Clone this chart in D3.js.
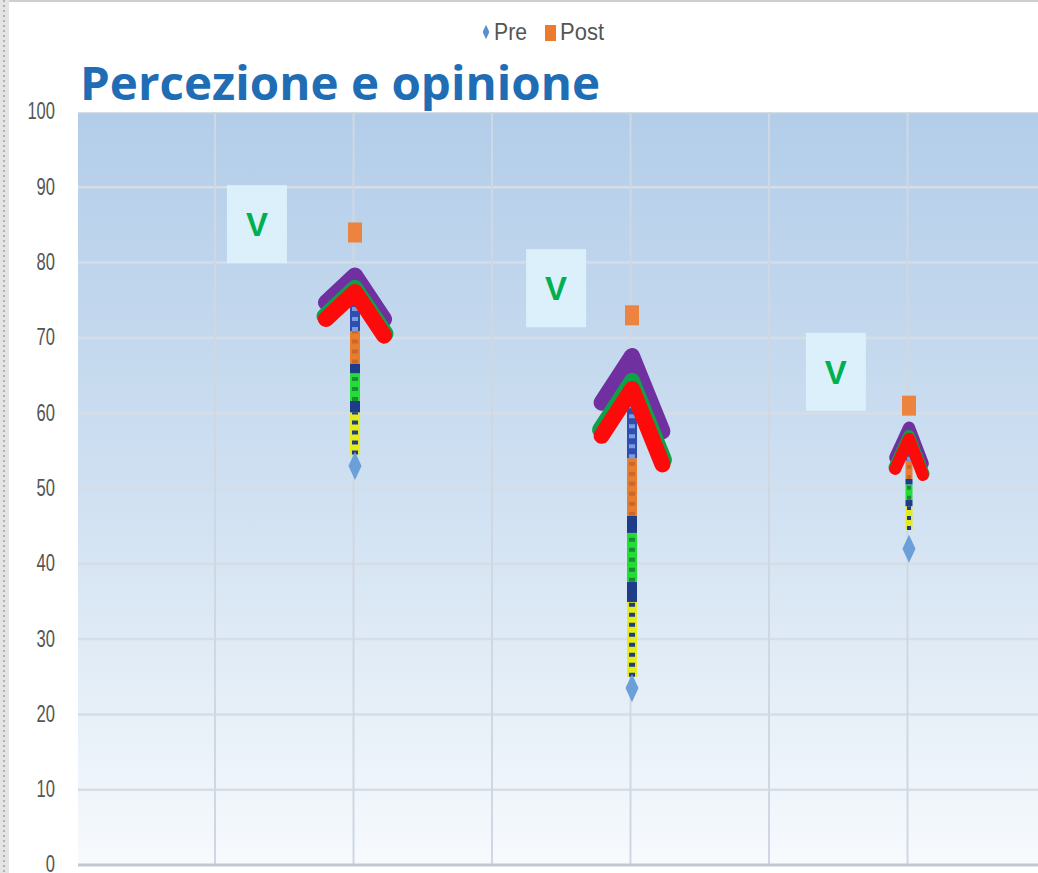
<!DOCTYPE html>
<html><head><meta charset="utf-8">
<script src="https://cdn.jsdelivr.net/npm/d3@7"></script>
<style>html,body{margin:0;padding:0;background:#fff;overflow:hidden}</style>
</head><body>
<svg id="c" width="1038" height="873"></svg>
<script>
// ---- data ----
const categories = [1, 2, 3];
const preValues  = [53, 23.5, 42];
const postValues = [84, 73, 61];
const yTicks = [0, 10, 20, 30, 40, 50, 60, 70, 80, 90, 100];
const xGrid = [0.5, 1, 1.5, 2, 2.5, 3, 3.5];
// arrow annotations (data units)
const arrowBase = [54.5, 25, 44.5];
const arrowTip  = [78.3, 67.6, 58.1];
const headHalf  = [0.105, 0.11, 0.05];    // x units
const dropLeft  = [3.6, 6.2, 4.0];        // y units
const dropRight = [5.8, 10.0, 4.8];
const layerOff  = [2.2, 4.4, 1.5];
// "V" labels (data units)
const vLabelX = [0.646, 1.726, 2.736];
const vLabelY = [85.1, 76.6, 65.5];
const vText = ["V", "V", "V"];
const legendItems = ["Pre", "Post"];
const title = "Percezione e opinione";

const svg = d3.select("#c");
const x = d3.scaleLinear().domain([0, 3.5]).range([78, 78 + 3.5 * 277]);
const y = d3.scaleLinear().domain([0, 100]).range([865, 112]);
const narrow = "'Liberation Sans','Arial',sans-serif";

// slide frame decoration
svg.append("rect").attr("x",0).attr("y",0).attr("width",1038).attr("height",2).attr("fill","#cfcfcf");
svg.append("rect").attr("x",0).attr("y",0).attr("width",9).attr("height",873).attr("fill","#e4e4e4");
svg.append("line").attr("x1",4).attr("x2",4).attr("y1",0).attr("y2",873)
  .attr("stroke","#b0b0b0").attr("stroke-width",2).attr("stroke-dasharray","2,3");

const defs = svg.append("defs");
const g = defs.append("linearGradient").attr("id","bg").attr("x1",0).attr("x2",0).attr("y1",0).attr("y2",1);
g.append("stop").attr("offset","0").attr("stop-color","#b3cde9");
g.append("stop").attr("offset","0.5").attr("stop-color","#cfe0f1");
g.append("stop").attr("offset","1").attr("stop-color","#f7fafd");
defs.append("clipPath").attr("id","clip").append("rect")
  .attr("x", x(0)).attr("y", y(100)).attr("width", 1038 - x(0)).attr("height", y(0) - y(100));

svg.append("rect").attr("x", x(0)).attr("y", y(100)).attr("width", 1038 - x(0)).attr("height", y(0) - y(100))
  .attr("fill","url(#bg)");

const plot = svg.append("g").attr("clip-path","url(#clip)");
// grid
plot.selectAll(".hg").data(yTicks.filter(d => d > 0)).join("line")
  .attr("x1", x(0)).attr("x2", 1038).attr("y1", d => y(d)).attr("y2", d => y(d))
  .attr("stroke","#d5dde7").attr("stroke-width",2.5);
plot.selectAll(".vg").data(xGrid).join("line")
  .attr("x1", d => x(d) - 1.5).attr("x2", d => x(d) - 1.5).attr("y1", y(100)).attr("y2", y(0))
  .attr("stroke","#cfd8e2").attr("stroke-width",2);
svg.append("line").attr("x1", x(0)).attr("x2", 1038).attr("y1", y(0)).attr("y2", y(0))
  .attr("stroke","#c3c8ce").attr("stroke-width",3);

// y axis labels
const yAxis = d3.axisLeft(y).tickValues(yTicks).tickSize(0).tickPadding(0);
const ya = svg.append("g").attr("transform","translate(55,0)").call(yAxis);
ya.select(".domain").remove();
ya.selectAll("text").attr("font-family", narrow)
  .attr("font-size",23).attr("fill","#555").attr("dy","0.3em")
  .attr("transform","scale(0.72,1)");

// V label boxes
const vg = svg.append("g");
vText.forEach((t, i) => {
  const cx = x(vLabelX[i]), cy = y(vLabelY[i]);
  vg.append("rect").attr("x", cx - 30).attr("y", cy - 39).attr("width", 60).attr("height", 78).attr("fill","#dbf0fa");
  vg.append("text").attr("x", cx).attr("y", cy + 12).attr("text-anchor","middle")
    .attr("font-family","'Liberation Sans',Arial,sans-serif").attr("font-weight",700).attr("font-size",33)
    .attr("fill","#00b050").text(t);
});

// arrows
const shaftBands = [
  {f0:0.00, f1:0.26, c:"#e6ec1a", dash:"#1f3c88"},
  {f0:0.26, f1:0.33, c:"#1f3c88"},
  {f0:0.33, f1:0.50, c:"#22dd33", dash:"#1f8a3a"},
  {f0:0.50, f1:0.56, c:"#1f3c88"},
  {f0:0.56, f1:0.76, c:"#e87d2f", dash:"#c8682a"},
  {f0:0.76, f1:1.00, c:"#2f4fb0", dash:"#7d9ce0"}
];
const ag = svg.append("g");
categories.forEach((cat, i) => {
  const cx = x(cat);
  const redTip = arrowTip[i] - layerOff[i];
  const base = arrowBase[i];
  shaftBands.forEach(b => {
    const v0 = base + (redTip - base) * b.f0, v1 = base + (redTip - base) * b.f1;
    ag.append("line").attr("x1", cx).attr("x2", cx).attr("y1", y(v0)).attr("y2", y(v1))
      .attr("stroke", b.c).attr("stroke-width", i === 2 ? 7 : 10);
    if (b.dash) ag.append("line").attr("x1", cx).attr("x2", cx).attr("y1", y(v0)).attr("y2", y(v1))
      .attr("stroke", b.dash).attr("stroke-width", i === 2 ? 4 : 6).attr("stroke-dasharray","4,6");
  });
  const layers = [
    {off:0, c:"#7030a0", ext:1},
    {off:0.75, c:"#0fa04a", ext:1.05},
    {off:1, c:"#ff0a0a", ext:1}
  ];
  layers.forEach(L => {
    const t = arrowTip[i] - layerOff[i] * L.off;
    const pts = [
      [x(cat - headHalf[i] * L.ext), y(t - dropLeft[i] * L.ext)],
      [cx, y(t)],
      [x(cat + headHalf[i] * L.ext), y(t - dropRight[i] * L.ext)]
    ];
    ag.append("path").attr("d", d3.line()(pts)).attr("fill","none")
      .attr("stroke", L.c).attr("stroke-width", i === 2 ? 12 : 16)
      .attr("stroke-linejoin","round").attr("stroke-linecap","round");
  });
});

// markers
const diamond = d3.symbol().type(d3.symbolDiamond).size(230);
svg.selectAll(".pre").data(categories).join("path")
  .attr("d", diamond).attr("transform", (d, i) => `translate(${x(d)},${y(preValues[i])}) scale(0.8,1)`)
  .attr("fill","#6a9fd8");
svg.selectAll(".post").data(categories).join("rect")
  .attr("x", d => x(d) - 7).attr("y", (d, i) => y(postValues[i]) - 10)
  .attr("width", 14).attr("height", 20).attr("fill","#ec8440");

// title
svg.append("text").attr("x", 80).attr("y", 100).text(title)
  .attr("font-family","'Open Sans','Noto Sans',sans-serif").attr("font-weight",700)
  .attr("font-size",47).attr("fill","#1f6db4")
  .attr("textLength", 520).attr("lengthAdjust","spacingAndGlyphs");

// legend
const lg = svg.append("g").attr("font-family", narrow)
  .attr("font-size",23).attr("fill","#555");
lg.append("path").attr("d", d3.symbol().type(d3.symbolDiamond).size(60))
  .attr("transform","translate(486,32) scale(0.8,1)").attr("fill","#5b8fd0");
lg.append("text").attr("x",494).attr("y",40).text(legendItems[0])
  .attr("textLength",33).attr("lengthAdjust","spacingAndGlyphs");
lg.append("rect").attr("x",545).attr("y",25).attr("width",11).attr("height",16).attr("fill","#ec7b2e");
lg.append("text").attr("x",560).attr("y",40).text(legendItems[1])
  .attr("textLength",44).attr("lengthAdjust","spacingAndGlyphs");
</script>
</body></html>
